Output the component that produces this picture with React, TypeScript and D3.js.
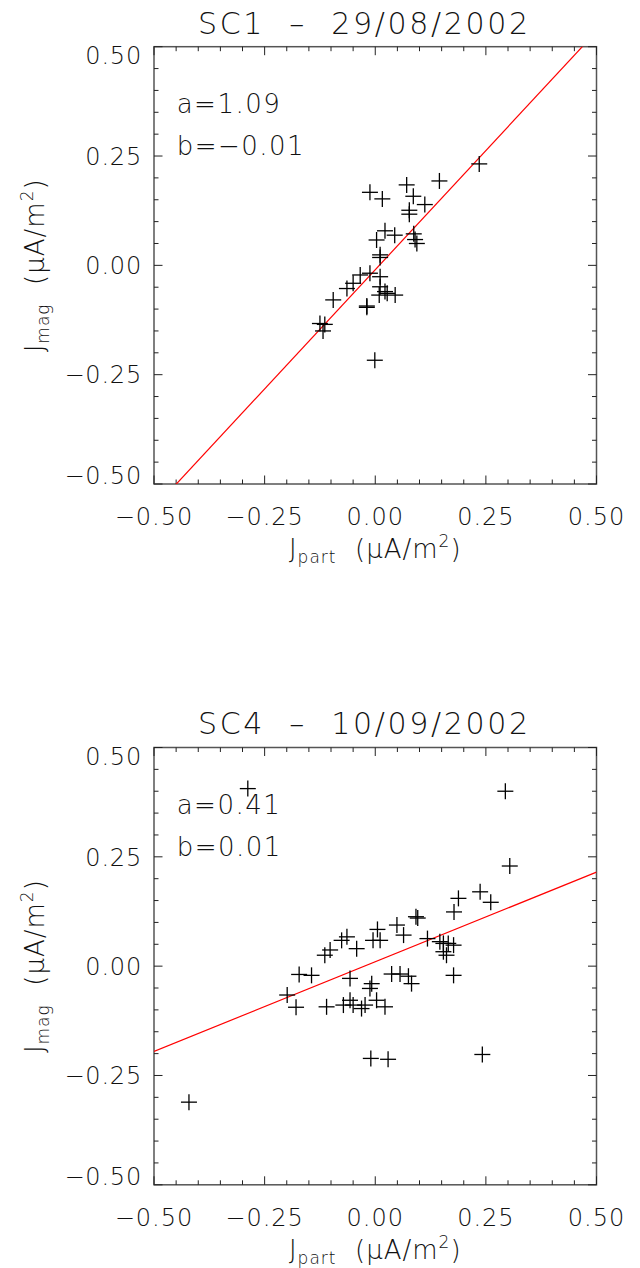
import { useRef, useEffect } from "react";
import * as d3 from "d3";

// SC1 - 29/08/2002
const sc1X = [0.235, 0.145, 0.071, -0.012, 0.016, 0.086, 0.112, 0.077, 0.077, 0.022, 0.044, 0.003, 0.087, 0.090, 0.094, 0.011, 0.011, -0.034, -0.012, -0.050, 0.011, 0.011, -0.064, 0.022, 0.009, 0.027, 0.045, -0.095, -0.019, -0.019, -0.125, -0.114, -0.118, -0.001];
const sc1Y = [0.232, 0.193, 0.184, 0.167, 0.152, 0.158, 0.139, 0.126, 0.117, 0.079, 0.069, 0.058, 0.072, 0.059, 0.050, 0.024, 0.018, -0.022, -0.018, -0.041, -0.026, -0.049, -0.053, -0.060, -0.068, -0.064, -0.068, -0.079, -0.093, -0.096, -0.133, -0.135, -0.150, -0.217];

// SC4 - 10/09/2002
const sc4X = [0.294, 0.304, 0.237, 0.261, 0.188, 0.178, 0.092, 0.096, 0.049, 0.064, 0.005, -0.005, 0.011, -0.064, -0.076, -0.042, 0.118, 0.146, 0.154, 0.165, 0.177, 0.154, 0.161, 0.177, -0.057, -0.008, -0.012, 0.037, 0.056, 0.075, 0.082, -0.057, -0.072, -0.050, -0.031, -0.023, 0.003, 0.022, -0.010, 0.029, 0.242, -0.199, -0.179, -0.172, -0.144, -0.110, -0.114, -0.102, -0.288, -0.421];
const sc4Y = [0.400, 0.229, 0.170, 0.146, 0.155, 0.124, 0.113, 0.110, 0.094, 0.071, 0.084, 0.059, 0.059, 0.067, 0.059, 0.040, 0.063, 0.056, 0.052, 0.052, 0.048, 0.033, 0.025, -0.021, -0.028, -0.040, -0.051, -0.018, -0.018, -0.023, -0.040, -0.078, -0.089, -0.089, -0.097, -0.089, -0.078, -0.093, -0.211, -0.213, -0.202, -0.066, -0.094, -0.019, -0.021, -0.093, 0.025, 0.037, 0.406, -0.311];

const titles = ["SC1  \u2013  29/08/2002", "SC4  \u2013  10/09/2002"];
const slopes = [1.09, 0.41];
const intercepts = [-0.01, 0.01];
const slopeLabels = ["a=1.09", "a=0.41"];
const interceptLabels = ["b=\u22120.01", "b=0.01"];
const majorTicks = [-0.5, -0.25, 0, 0.25, 0.5];

const FONT = "'DejaVu Sans', sans-serif";
const INK = "#111";

const App = () => {
  const svgRef = useRef(null);

  useEffect(() => {
    const svg = d3.select(svgRef.current);
    svg.selectAll("*").remove();

    const panels = [
      { xs: sc1X, ys: sc1Y, top: 46.7 },
      { xs: sc4X, ys: sc4Y, top: 747.5 },
    ];
    const left = 154;
    const right = 596.5;
    const h = 437.3;
    const cx = (left + right) / 2;

    panels.forEach((p, i) => {
      const bottom = p.top + h;
      const x = d3.scaleLinear().domain([-0.5, 0.5]).range([left, right]);
      const y = d3.scaleLinear().domain([-0.5, 0.5]).range([bottom, p.top]);
      const g = svg.append("g");

      // 邊框
      g.append("rect")
        .attr("x", left).attr("y", p.top)
        .attr("width", right - left).attr("height", h)
        .attr("fill", "none").attr("stroke", "#555").attr("stroke-width", 1.5);

      // 刻度 (四邊, 向內)
      const minor = d3.range(-0.5, 0.5001, 0.05);
      minor.forEach((v) => {
        const isMajor = Math.abs(v * 4 - Math.round(v * 4)) < 1e-6;
        const len = isMajor ? 8.5 : 4.5;
        const xv = x(v), yv = y(v);
        const tick = (x1, y1, x2, y2) =>
          g.append("line").attr("x1", x1).attr("y1", y1).attr("x2", x2).attr("y2", y2)
            .attr("stroke", "#222").attr("stroke-width", 1);
        tick(xv, bottom, xv, bottom - len);
        tick(xv, p.top, xv, p.top + len);
        tick(left, yv, left + len, yv);
        tick(right, yv, right - len, yv);
      });

      const fmt = d3.format(".2f");
      majorTicks.forEach((v, k) => {
        g.append("text")
          .attr("x", x(v)).attr("y", bottom + 41)
          .attr("text-anchor", "middle")
          .attr("font-family", FONT).attr("font-weight", 200)
          .attr("font-size", 24).attr("letter-spacing", 1)
          .attr("fill", INK)
          .text(fmt(v));
        let yy = y(v) + 8.8;
        if (k === majorTicks.length - 1) yy = p.top + 17.6;
        if (k === 0) yy = bottom;
        g.append("text")
          .attr("x", 142).attr("y", yy)
          .attr("text-anchor", "end")
          .attr("font-family", FONT).attr("font-weight", 200)
          .attr("font-size", 24).attr("letter-spacing", 0.8)
          .attr("fill", INK)
          .text(fmt(v));
      });

      // 標題
      g.append("text")
        .attr("x", 198).attr("y", p.top - 13.2)
        .attr("font-family", FONT).attr("font-weight", 200).attr("font-size", 30)
        .attr("textLength", 330).attr("lengthAdjust", "spacing")
        .style("white-space", "pre")
        .attr("fill", INK)
        .text(titles[i]);

      // 軸標題
      const axisTitle = (sel, sub) => {
        sel.attr("font-family", FONT).attr("font-weight", 200)
          .attr("font-size", 26).attr("letter-spacing", 1).attr("fill", INK)
          .style("white-space", "pre");
        sel.append("tspan").text("J");
        sel.append("tspan").attr("font-size", 17).attr("dy", 5).text(sub);
        sel.append("tspan").attr("dy", -5).text("  (\u03bcA/m");
        sel.append("tspan").attr("font-size", 17).attr("dy", -11).text("2");
        sel.append("tspan").attr("dy", 11).text(")");
      };
      axisTitle(
        g.append("text").attr("x", cx).attr("y", bottom + 74).attr("text-anchor", "middle"),
        "part"
      );
      axisTitle(
        g.append("text")
          .attr("transform", `translate(43.5,${(p.top + bottom) / 2}) rotate(-90)`)
          .attr("text-anchor", "middle"),
        "mag"
      );

      // 擬合參數
      g.append("text")
        .attr("x", 176.7).attr("y", p.top + 66)
        .attr("font-family", FONT).attr("font-weight", 200)
        .attr("font-size", 26).attr("letter-spacing", 1.5)
        .attr("fill", INK).text(slopeLabels[i]);
      g.append("text")
        .attr("x", 176.7).attr("y", p.top + 108.5)
        .attr("font-family", FONT).attr("font-weight", 200)
        .attr("font-size", 26).attr("letter-spacing", 1.5)
        .attr("fill", INK).text(interceptLabels[i]);

      // 擬合直線 (裁切在框內)
      const clipId = `clip${i}`;
      g.append("clipPath").attr("id", clipId)
        .append("rect").attr("x", left).attr("y", p.top)
        .attr("width", right - left).attr("height", h);
      const line = d3.line().x((d) => x(d[0])).y((d) => y(d[1]));
      g.append("path")
        .datum([-0.5, 0.5].map((v) => [v, slopes[i] * v + intercepts[i]]))
        .attr("clip-path", `url(#${clipId})`)
        .attr("fill", "none").attr("stroke", "#ff0000").attr("stroke-width", 1.2)
        .attr("d", line);

      // 數據點 (十字)
      const pts = p.xs.map((v, k) => [v, p.ys[k]]);
      const cross = g.selectAll(".pt").data(pts).enter().append("g").attr("class", "pt");
      cross.append("line")
        .attr("x1", (d) => x(d[0]) - 8).attr("x2", (d) => x(d[0]) + 8)
        .attr("y1", (d) => y(d[1])).attr("y2", (d) => y(d[1]))
        .attr("stroke", "#000").attr("stroke-width", 1.3);
      cross.append("line")
        .attr("x1", (d) => x(d[0])).attr("x2", (d) => x(d[0]))
        .attr("y1", (d) => y(d[1]) - 8).attr("y2", (d) => y(d[1]) + 8)
        .attr("stroke", "#000").attr("stroke-width", 1.3);
    });
  }, []);

  return (
    <svg
      ref={svgRef}
      width={640}
      height={1268}
      style={{ position: "absolute", left: 0, top: 0, background: "#fff" }}
    ></svg>
  );
};

export default App;
